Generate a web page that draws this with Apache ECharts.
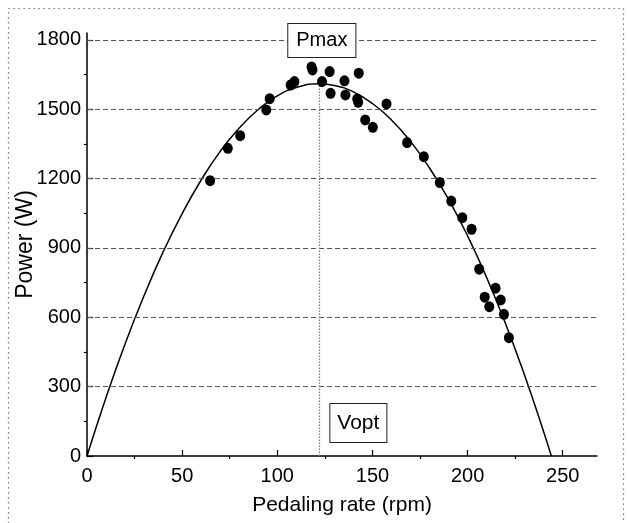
<!DOCTYPE html>
<html>
<head>
<meta charset="utf-8">
<script src="https://cdn.jsdelivr.net/npm/echarts@6/dist/echarts.min.js"></script>
<style>html,body{margin:0;padding:0;background:#fff}#c{width:628px;height:523px}</style>
</head>
<body>
<div id="c"></div>
<script>
// measured points
const scatterRate  = [64.7, 74.0, 80.5, 94.2, 96.0, 107.0, 109.0, 118.0, 118.5, 123.5, 127.5, 128.0, 135.3, 135.8, 142.8, 142.0, 142.5, 146.2, 150.2, 157.4, 168.2, 177.0, 185.4, 191.4, 197.2, 202.1, 206.1, 209.0, 211.4, 214.7, 217.4, 219.1, 221.7];
const scatterPower = [1191, 1331, 1386, 1497, 1546, 1605, 1620, 1683, 1670, 1620, 1663, 1569, 1623, 1562, 1656, 1545, 1530, 1454, 1422, 1523, 1356, 1295, 1183, 1103, 1031, 981, 808, 687, 646, 726, 675, 613, 512];
// fitted curve
const curveRate  = [0, 10, 20, 30, 40, 50, 60, 70, 80, 90, 100, 110, 122, 130, 140, 150, 160, 170, 180, 190, 200, 210, 220, 230, 240, 244];
const curvePower = [0, 253, 485, 694, 883, 1049, 1194, 1318, 1419, 1499, 1558, 1594, 1610, 1603, 1575, 1525, 1454, 1361, 1246, 1110, 952, 772, 571, 348, 104, 0];
const vopt = 122, pmax = 1610;
const xTicks = [0, 50, 100, 150, 200, 250];
const xMinor = [25, 75, 125, 175, 225];
const yTicks = [0, 300, 600, 900, 1200, 1500, 1800];
const yMinor = [150, 450, 750, 1050, 1350, 1650];
const gridLevels = [300, 600, 900, 1200, 1500, 1800];
const xMax = 268, yMax = 1830;

const FONT = "'Liberation Sans', Arial, sans-serif";
const chart = echarts.init(document.getElementById('c'));
const baseX = {type:'value', min:0, max:xMax, gridIndex:0, splitLine:{show:false}};
const baseY = {type:'value', min:0, max:yMax, gridIndex:0, splitLine:{show:false}};
const plain = v => String(v);
chart.setOption({
  animation:false,
  backgroundColor:'#fff',
  graphic:[{type:'rect', shape:{x:8.5, y:8.5, width:615, height:530},
    style:{fill:'none', stroke:'#555', lineWidth:1.2, lineDash:[1.2,3.8]}}],
  grid:{left:87, right:31, top:33, bottom:67, containLabel:false, outerBoundsMode:'none'},
  xAxis:[
    Object.assign({}, baseX, {
      name:'Pedaling rate (rpm)', nameLocation:'middle', nameGap:39, nameMoveOverlap:false,
      nameTextStyle:{fontFamily:FONT, fontSize:21, color:'#000'},
      axisLine:{show:true, onZero:false, lineStyle:{color:'#000', width:1.5}},
      axisTick:{show:true, inside:true, length:6, customValues:xTicks, lineStyle:{color:'#000', width:1.2}},
      axisLabel:{customValues:xTicks, formatter:plain, fontFamily:FONT, fontSize:20, color:'#000', margin:10}
    }),
    Object.assign({}, baseX, {
      axisLine:{show:false}, axisLabel:{show:false},
      axisTick:{show:true, inside:true, length:3, customValues:xMinor, lineStyle:{color:'#000', width:1.2}}
    })
  ],
  yAxis:[
    Object.assign({}, baseY, {
      name:'Power (W)', nameLocation:'middle', nameGap:50, nameMoveOverlap:false,
      nameTextStyle:{fontFamily:FONT, fontSize:23, color:'#000'},
      axisLine:{show:true, onZero:false, lineStyle:{color:'#000', width:1.5}},
      axisTick:{show:true, inside:true, length:6, customValues:yTicks, lineStyle:{color:'#000', width:1.2}},
      axisLabel:{customValues:yTicks, formatter:plain, fontFamily:FONT, fontSize:20, color:'#000', margin:6}
    }),
    Object.assign({}, baseY, {
      axisLine:{show:false}, axisLabel:{show:false},
      axisTick:{show:true, inside:true, length:3, customValues:yMinor, lineStyle:{color:'#000', width:1.2}}
    })
  ],
  series:[
    {
      type:'line', xAxisIndex:0, yAxisIndex:0, smooth:true, symbol:'none',
      lineStyle:{color:'#000', width:1.5},
      data: curveRate.map((v,i)=>[v, curvePower[i]]),
      markLine:{
        silent:true, symbol:'none', label:{show:false},
        data:[
          ...gridLevels.map(g => [{coord:[0,g], lineStyle:{color:'#555', type:[5,3], width:1}},{coord:[xMax,g]}]),
          [{coord:[vopt,0], lineStyle:{color:'#777', type:[1.5,1.5], width:1.2}},{coord:[vopt,pmax]}]
        ]
      },
      markPoint:{
        silent:true, symbol:'circle', symbolSize:0,
        data:[
          {coord:[123.4,1798], label:{show:true, position:'inside', formatter:'Pmax', fontFamily:FONT, fontSize:20, color:'#000',
            backgroundColor:'#fff', borderColor:'#222', borderWidth:1, padding:[7,8,6,8]}},
          {coord:[142.6,143], label:{show:true, position:'inside', formatter:'Vopt', fontFamily:FONT, fontSize:21, color:'#000',
            backgroundColor:'#fff', borderColor:'#222', borderWidth:1, padding:[9,7,8,7]}}
        ]
      }
    },
    {
      type:'scatter', xAxisIndex:0, yAxisIndex:0, symbol:'circle', symbolSize:[10,11],
      itemStyle:{color:'#000', opacity:1}, z:5,
      data: scatterRate.map((v,i)=>[v, scatterPower[i]])
    }
  ]
});
</script>
</body>
</html>
